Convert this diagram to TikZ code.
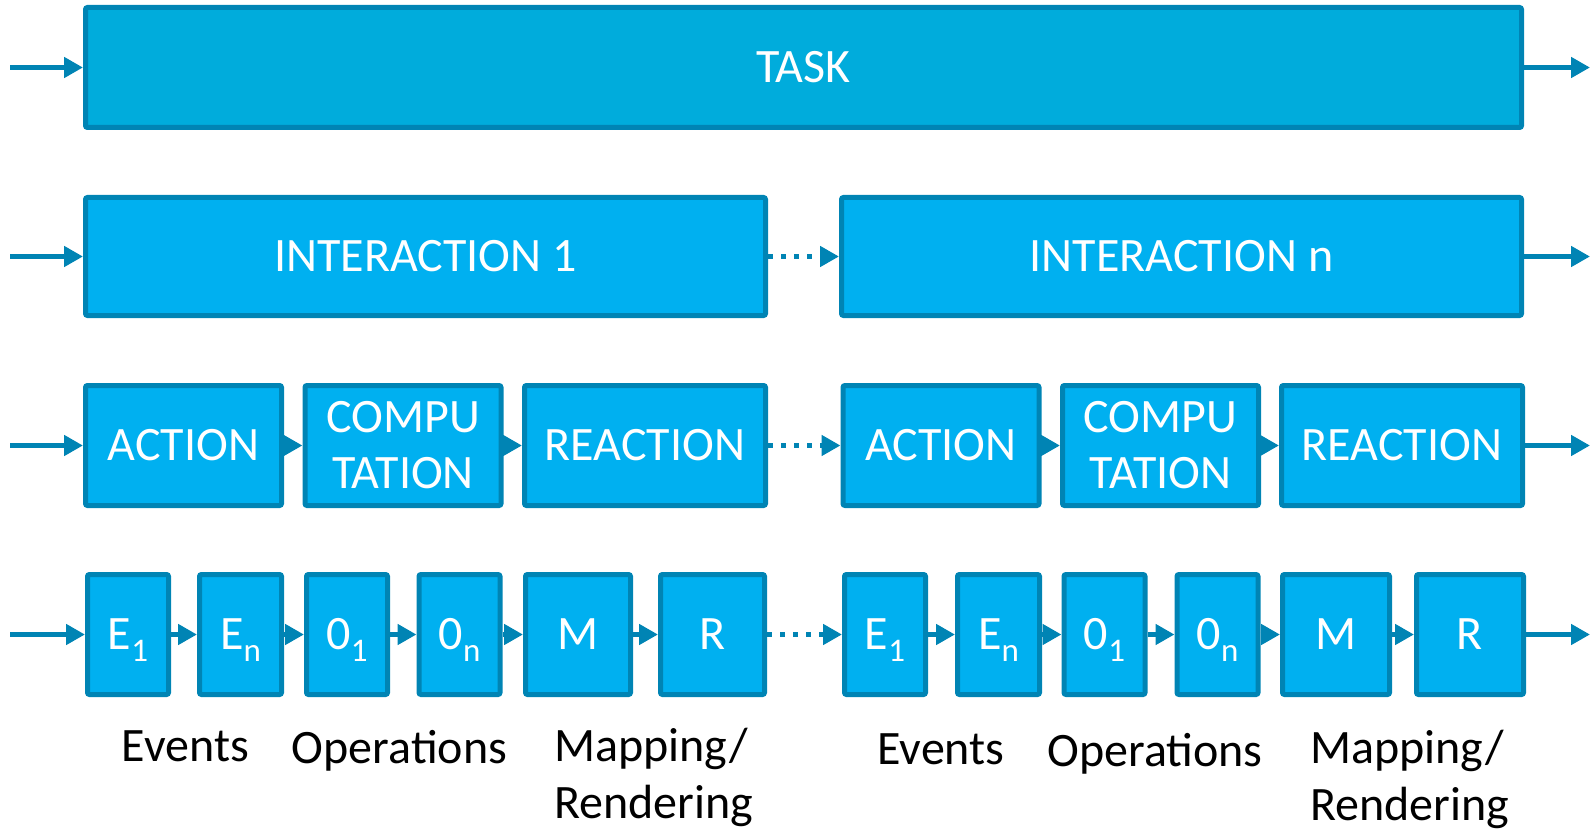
\documentclass[tikz,border=0pt]{standalone}
\usepackage{fontspec}
\setmainfont{Carlito}
\usetikzlibrary{arrows.meta}
\definecolor{taskfill}{RGB}{0,172,220}
\definecolor{boxfill}{RGB}{0,176,240}
\definecolor{edgeblue}{RGB}{0,132,180}
% lowered index as used in E_1, 0_n ...
\newcommand\lowidx[1]{\raisebox{-12pt}[0pt][0pt]{\fontsize{33}{33}\selectfont #1}}
\begin{document}
\begin{tikzpicture}[x=1pt,y=-1pt,
  blk/.style={draw=edgeblue, fill=boxfill, line width=5pt, rounded corners=2pt,
    text=white, inner sep=0pt, minimum height=120pt, align=center,
    font=\fontsize{48}{56}\selectfont},
  flow/.style={draw=edgeblue, line width=5pt, -{Triangle[length=19pt,width=20pt]}},
  dots/.style={flow, dash pattern=on 5pt off 8pt},
  lbl/.style={anchor=base, inner sep=0pt, text=black, font=\fontsize{48}{54}\selectfont}]
\useasboundingbox (0,0) rectangle (1595,829);

% task level
\node[blk, fill=taskfill, minimum width=1436pt] (task) at (803.5,67.5) {TASK};

% interaction level
\node[blk, minimum width=680pt, minimum height=118pt] (ia1) at (425.5,256.5) {INTERACTION 1};
\node[blk, minimum width=680pt, minimum height=118pt] (ian) at (1181.5,256.5) {INTERACTION n};

% action / computation / reaction level
\node[blk, minimum width=196pt] (act1) at (183.5,445.5) {ACTION};
\node[blk, minimum width=196pt] (comp1) at (403,445.5) {COMPU\\TATION};
\node[blk, minimum width=241pt] (reac1) at (645,445.5) {REACTION};
\node[blk, minimum width=196pt] (act2) at (941,445.5) {ACTION};
\node[blk, minimum width=196pt] (comp2) at (1160.5,445.5) {COMPU\\TATION};
\node[blk, minimum width=241pt] (reac2) at (1402,445.5) {REACTION};

% elementary steps
\node[blk, minimum width=81pt] (ea1) at (128,634.5) {E\lowidx{1}};
\node[blk, minimum width=82pt] (eb1) at (240.5,634.5) {E\lowidx{n}};
\node[blk, minimum width=81pt] (oa1) at (347,634.5) {0\lowidx{1}};
\node[blk, minimum width=81pt] (ob1) at (459.5,634.5) {0\lowidx{n}};
\node[blk, minimum width=105pt] (m1) at (578,634.5) {M};
\node[blk, minimum width=104pt] (r1) at (712.5,634.5) {R};
\node[blk, minimum width=81pt] (ea2) at (885,634.5) {E\lowidx{1}};
\node[blk, minimum width=82pt] (eb2) at (998.5,634.5) {E\lowidx{n}};
\node[blk, minimum width=81pt] (oa2) at (1104.5,634.5) {0\lowidx{1}};
\node[blk, minimum width=81pt] (ob2) at (1217.5,634.5) {0\lowidx{n}};
\node[blk, minimum width=107pt] (m2) at (1336,634.5) {M};
\node[blk, minimum width=107pt] (r2) at (1470,634.5) {R};

% free ends of the input and output arrows
\foreach \n/\y in {1/67.5, 2/256.5, 3/445.5, 4/634.5}{
  \coordinate (in\n) at (10,\y);
  \coordinate (out\n) at (1590,\y);
}

% connectors
\draw[flow] (in1) -- (task);
\draw[flow] (task) -- (out1);

\draw[flow] (in2) -- (ia1);
\draw[dots] (ia1) -- (ian);
\draw[flow] (ian) -- (out2);

\draw[flow] (in3) -- (act1);
\draw[flow] (act1) -- (comp1);
\draw[flow] (comp1) -- (reac1);
\draw[dots] (reac1) -- (act2);
\draw[flow] (act2) -- (comp2);
\draw[flow] (comp2) -- (reac2);
\draw[flow] (reac2) -- (out3);

\draw[flow] (in4) -- (ea1);
\draw[flow] (ea1) -- (eb1);
\draw[flow] (eb1) -- (oa1);
\draw[flow] (oa1) -- (ob1);
\draw[flow] (ob1) -- (m1);
\draw[flow] (m1) -- (r1);
\draw[dots] (r1) -- (ea2);
\draw[flow] (ea2) -- (eb2);
\draw[flow] (eb2) -- (oa2);
\draw[flow] (oa2) -- (ob2);
\draw[flow] (ob2) -- (m2);
\draw[flow] (m2) -- (r2);
\draw[flow] (r2) -- (out4);

% captions under the elementary steps
\node[lbl] (ev1) at (185.5,761) {Events};
\node[lbl] (op1) at (399.5,763) {Operations};
\node[lbl, anchor=base west] (map1) at (554,761) {Mapping/};
\node[lbl, anchor=base west] (ren1) at (554,818) {Rendering};
\node[lbl] (ev2) at (941,764) {Events};
\node[lbl] (op2) at (1155,766) {Operations};
\node[lbl, anchor=base west] (map2) at (1310,763) {Mapping/};
\node[lbl, anchor=base west] (ren2) at (1310,820) {Rendering};
\end{tikzpicture}
\end{document}
